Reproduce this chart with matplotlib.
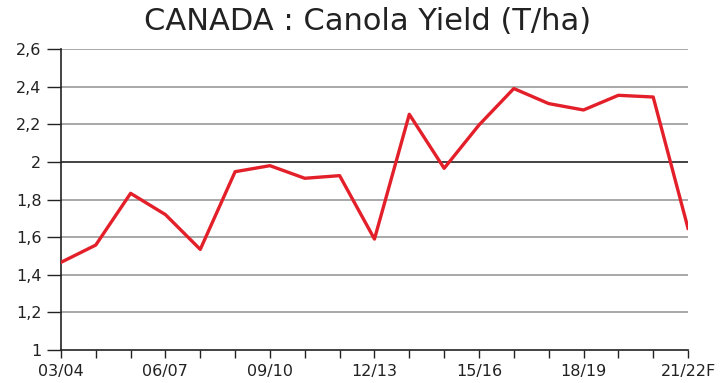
import numpy as np
import matplotlib.pyplot as plt

plt.rcParams['font.family'] = ['DejaVu Sans']

seasons = ['03/04', '04/05', '05/06', '06/07', '07/08', '08/09', '09/10', '10/11',
           '11/12', '12/13', '13/14', '14/15', '15/16', '16/17', '17/18', '18/19',
           '19/20', '20/21', '21/22F']
yields = [1.466, 1.558, 1.833, 1.72, 1.535, 1.948, 1.98, 1.913, 1.927, 1.59,
          2.253, 1.966, 2.196, 2.39, 2.31, 2.276, 2.354, 2.345, 1.647]
y_ticks = [1, 1.2, 1.4, 1.6, 1.8, 2, 2.2, 2.4, 2.6]
y_labels = ['1', '1,2', '1,4', '1,6', '1,8', '2', '2,2', '2,4', '2,6']

fig = plt.figure(figsize=(7.25, 3.83), dpi=100)
ax = fig.add_axes([0.084, 0.086, 0.865, 0.786])

x = np.arange(len(seasons))
for v in y_ticks[1:]:
    ax.axhline(v, color='#222222' if v == 2 else '#9a9a9a', lw=1.2, zorder=1)
ax.plot(x, yields, color='#e3202a', lw=2.4, zorder=3)

ax.set_xlim(0, len(seasons) - 1)
ax.set_ylim(1, 2.6)
ax.set_yticks(y_ticks)
ax.set_yticklabels(y_labels)
ax.set_xticks(x)
ax.set_xticklabels([s if i % 3 == 0 else '' for i, s in enumerate(seasons)])
ax.tick_params(axis='both', colors='#222222', labelcolor='#222222')
ax.tick_params(axis='x', direction='out', length=6, width=1, labelsize=11.5, pad=4)
ax.tick_params(axis='y', direction='out', length=10, width=1, labelsize=11.5, pad=4)

for side in ['top', 'right']:
    ax.spines[side].set_visible(False)
for side in ['left', 'bottom']:
    ax.spines[side].set_color('#222222')
    ax.spines[side].set_linewidth(1.2)

fig.text(0.507, 0.943, 'CANADA : Canola Yield (T/ha)', ha='center', va='center',
         fontsize=22, color='#222222')

fig.savefig('out.png', dpi=100)
